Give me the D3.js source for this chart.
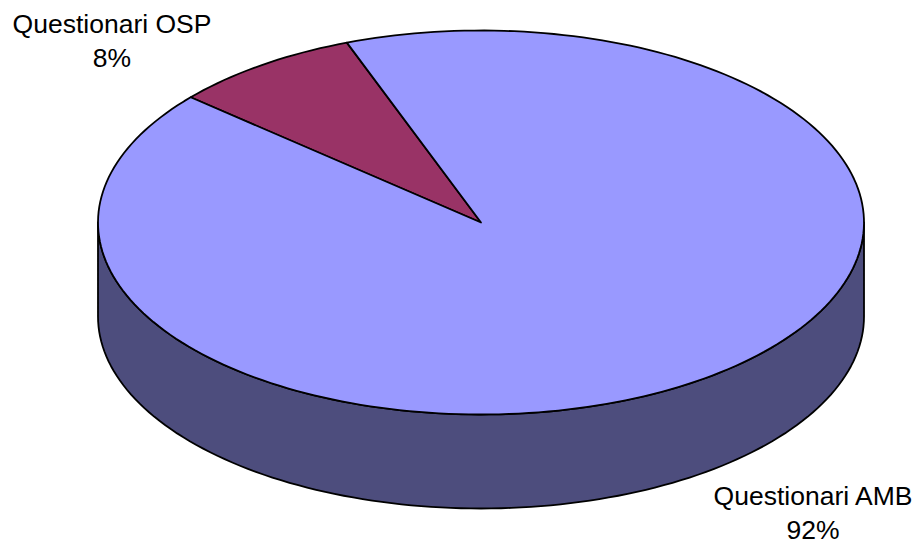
<!DOCTYPE html>
<html>
<head>
<meta charset="utf-8">
<script src="https://cdn.jsdelivr.net/npm/d3@7"></script>
<style>
  html, body { margin: 0; padding: 0; background: #ffffff; }
  svg { display: block; }
  text { font-family: "Liberation Sans", Arial, sans-serif; fill: #000; }
</style>
</head>
<body>
<svg id="chart" width="922" height="545"></svg>
<script>
// Survey questionnaire shares (percent)
const categories = ["Questionari OSP", "Questionari AMB"];
const values = [8, 92];
const valueLabels = ["8%", "92%"];

const topColors = ["#993366", "#9999FF"];
const sideColors = ["#4D1A33", "#4D4D7D"];

const W = 922, H = 545;
const cx = 481, cy = 222.5;   // centre of the top ellipse
const rx = 383, ry = 192;     // ellipse radii
const depth = 94;             // thickness of the disc
const rotation = 310.7 * Math.PI / 180;

const svg = d3.select("#chart");

const pie = d3.pie().sort(null).value(d => d)
  .startAngle(rotation).endAngle(rotation + 2 * Math.PI);
const arcs = pie(values);

// point on the ellipse for a d3 pie angle (0 = 12 o'clock, clockwise)
const pt = (a, dy = 0) => [cx + rx * Math.sin(a), cy - ry * Math.cos(a) + dy];

function arcPoints(a0, a1, dy = 0, n = 120) {
  const steps = Math.max(2, Math.ceil(n * Math.abs(a1 - a0) / Math.PI));
  return d3.range(steps + 1).map(i => pt(a0 + (a1 - a0) * i / steps, dy));
}

const line = d3.line();

// Side walls: visible front half (pie angles PI/2 .. 3PI/2)
arcs.forEach((d, i) => {
  const segs = [];
  const twoPi = 2 * Math.PI;
  for (let k = -1; k <= 1; k++) {
    const lo = Math.max(d.startAngle, Math.PI / 2 + k * twoPi);
    const hi = Math.min(d.endAngle, 1.5 * Math.PI + k * twoPi);
    if (hi > lo) segs.push([lo, hi]);
  }
  segs.forEach(([lo, hi]) => {
    const pts = arcPoints(lo, hi, 0).concat(arcPoints(hi, lo, depth));
    svg.append("path")
      .attr("d", line(pts) + "Z")
      .attr("fill", sideColors[i])
      .attr("stroke", "#000")
      .attr("stroke-width", 1.8)
      .attr("stroke-linejoin", "round");
  });
});

// Top faces
arcs.forEach((d, i) => {
  const pts = [[cx, cy]].concat(arcPoints(d.startAngle, d.endAngle, 0));
  svg.append("path")
    .attr("d", line(pts) + "Z")
    .attr("fill", topColors[i])
    .attr("stroke", "#000")
    .attr("stroke-width", 1.8)
    .attr("stroke-linejoin", "round");
});

// Labels
const labelPos = [[112, 33], [813, 505]];
arcs.forEach((d, i) => {
  const g = svg.append("text")
    .attr("text-anchor", "middle")
    .attr("font-size", 26.5);
  g.append("tspan").attr("x", labelPos[i][0]).attr("y", labelPos[i][1]).text(categories[i]);
  g.append("tspan").attr("x", labelPos[i][0]).attr("y", labelPos[i][1] + 34).text(valueLabels[i]);
});
</script>
</body>
</html>
